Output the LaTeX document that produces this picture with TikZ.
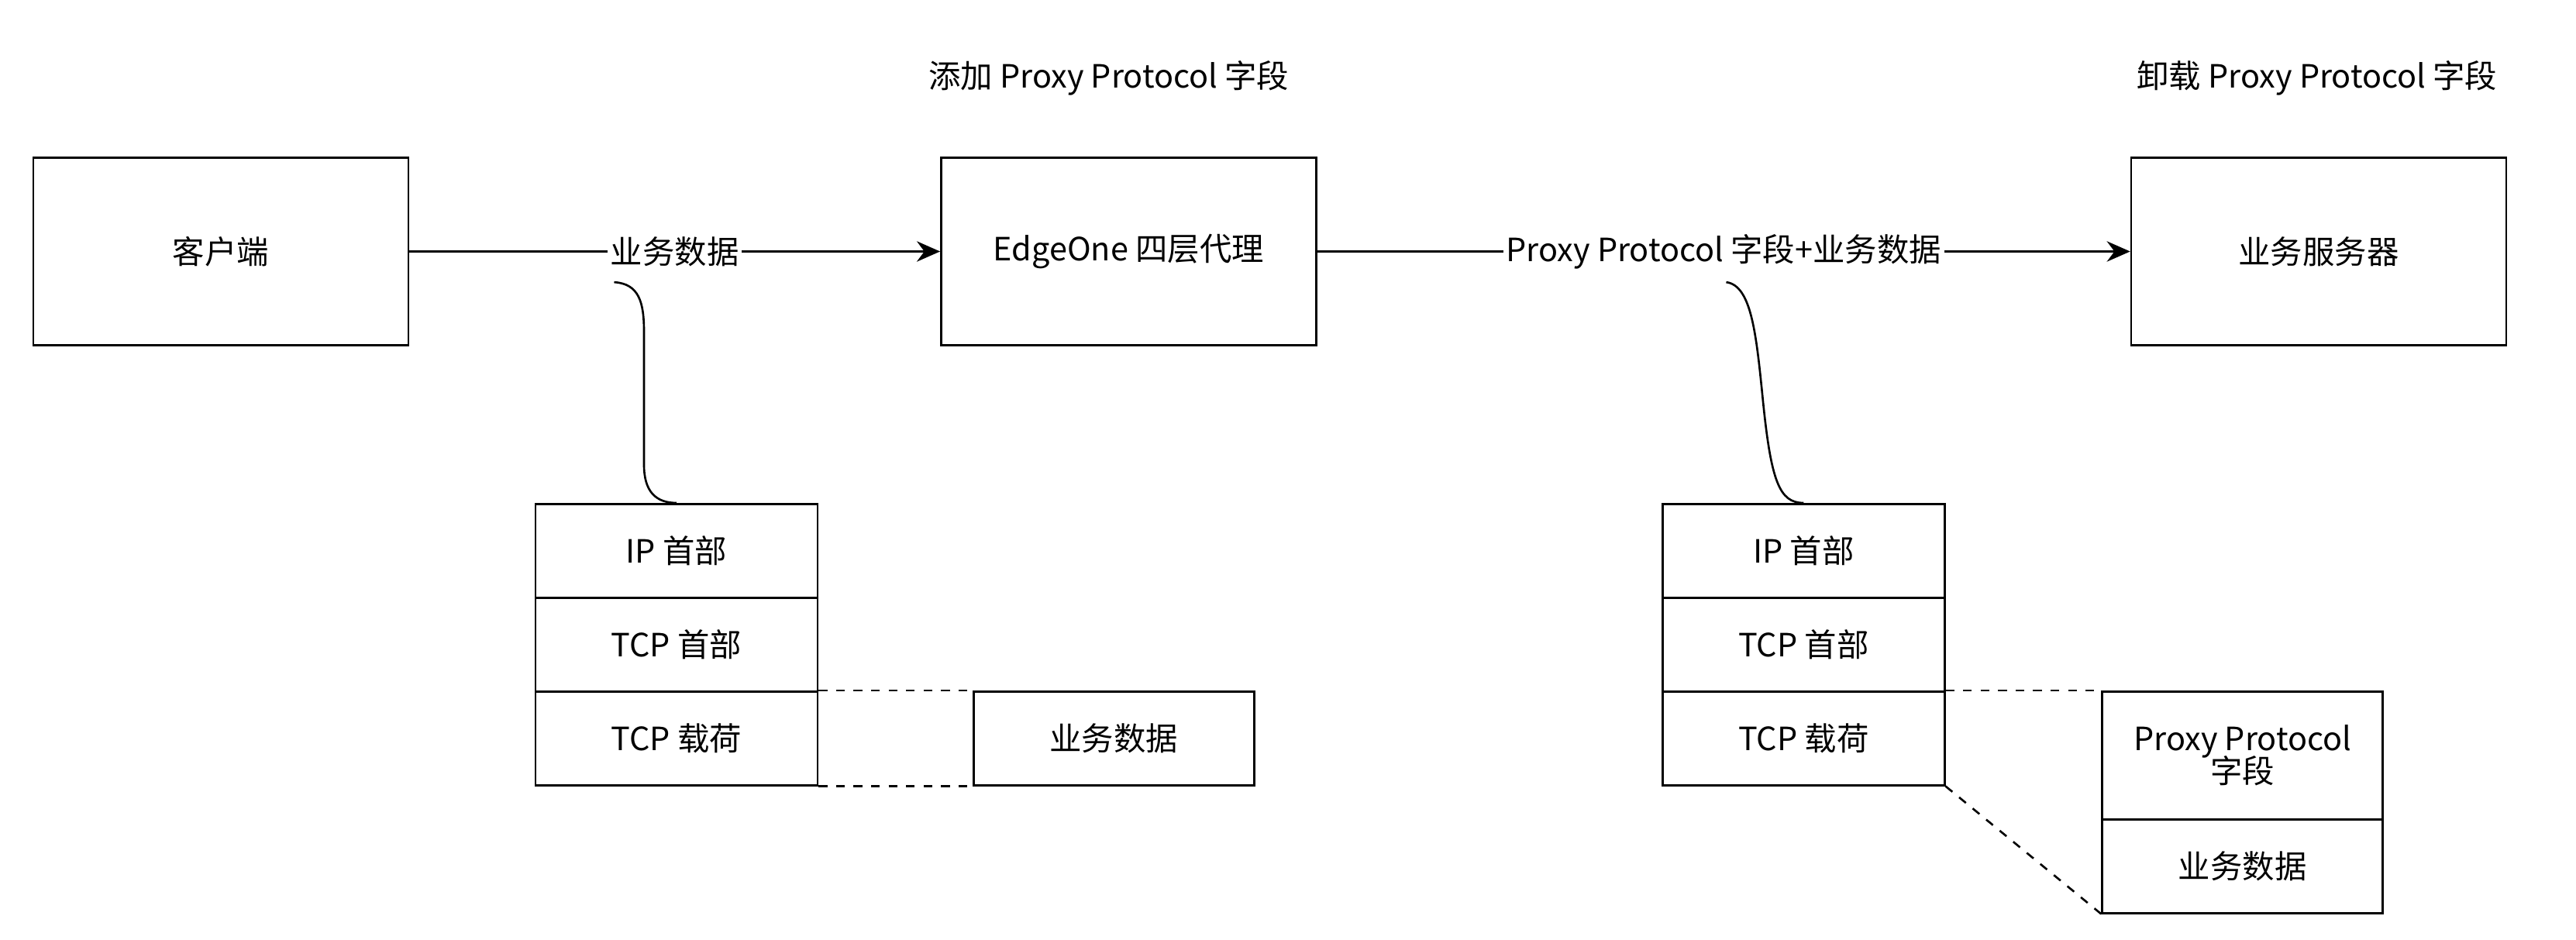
\documentclass[tikz,border=0pt]{standalone}
\usepackage{fontspec}
\setmainfont{Noto Sans CJK SC}
\usetikzlibrary{arrows.meta}
\begin{document}
\begin{tikzpicture}[x=0.02cm,y=-0.02cm,line width=0.7pt,
  font=\fontsize{11}{13}\selectfont,
  box/.style={draw,minimum width=4.52cm,minimum height=2.26cm,inner sep=0pt},
  cell/.style={draw,minimum width=3.4cm,minimum height=1.13cm,inner sep=0pt,anchor=north west},
  arr/.style={-{Stealth[length=8pt,width=7pt]}},
  lbl/.style={fill=white,inner sep=1pt}]
\useasboundingbox (0,0) rectangle (1552,566);
\node[box] (cli) at (133,151.5) {客户端};
\node[box] (edge) at (680,151.5) {EdgeOne 四层代理};
\node[box] (srv) at (1397,151.5) {业务服务器};
\node (t1) at (668,47) {添加 Proxy Protocol 字段};
\node (t2) at (1396,47) {卸载 Proxy Protocol 字段};
\draw[arr] (cli) -- node[lbl] (l1) {业务数据} (edge);
\draw[arr] (edge) -- node[lbl] (l2) {Proxy Protocol 字段+业务数据} (srv);
% left stack
\node[cell] (a1) at (322,303) {IP 首部};
\node[cell] (a2) at (322,359.5) {TCP 首部};
\node[cell] (a3) at (322,416) {TCP 载荷};
\node[cell,minimum width=3.38cm] (a4) at (586,416) {业务数据};
\draw[dashed] (a3.north east) -- (a4.north west);
\draw[dashed] (a3.south east) -- (a4.south west);
\coordinate (c1) at (370,170);
\draw (c1) .. controls (385,171) and (388,182) .. (388,200) -- (388,280) .. controls (388,296) and (395,303) .. (a1.north);
% right stack
\node[cell] (b1) at (1001,303) {IP 首部};
\node[cell] (b2) at (1001,359.5) {TCP 首部};
\node[cell] (b3) at (1001,416) {TCP 载荷};
\node[cell,minimum width=3.38cm,minimum height=1.54cm,align=center] (b4) at (1266,416) {Proxy Protocol\\[-2pt]字段};
\node[cell,minimum width=3.38cm] (b5) at (1266,493) {业务数据};
\draw[dashed] (b3.north east) -- (b4.north west);
\draw[dashed] (b3.south east) -- (b5.south west);
\coordinate (c2) at (1040,170);
\draw (c2) .. controls (1055,172) and (1058,200) .. (1062,240) .. controls (1067,290) and (1072,303) .. (b1.north);
\end{tikzpicture}
\end{document}
